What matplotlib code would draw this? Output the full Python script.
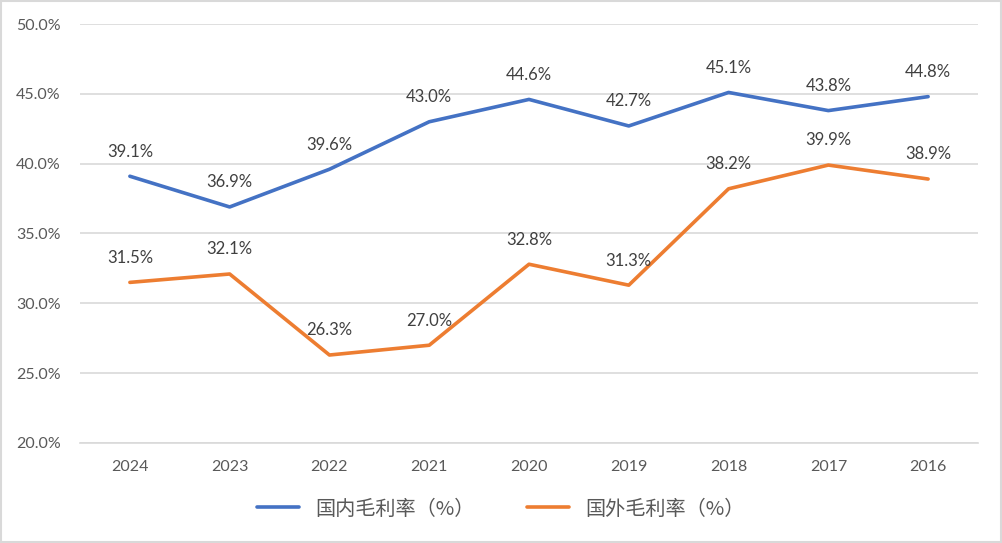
import matplotlib
matplotlib.use("Agg")
import matplotlib.pyplot as plt
from matplotlib.ticker import FuncFormatter

years = ["2024", "2023", "2022", "2021", "2020", "2019", "2018", "2017", "2016"]
domestic = [39.1, 36.9, 39.6, 43.0, 44.6, 42.7, 45.1, 43.8, 44.8]
foreign = [31.5, 32.1, 26.3, 27.0, 32.8, 31.3, 38.2, 39.9, 38.9]
series_names = ["国内毛利率（%）", "国外毛利率（%）"]

plt.rcParams['font.family'] = ['Lato', 'Noto Sans CJK SC', 'DejaVu Sans']
txt = '#595959'

fig = plt.figure(figsize=(10.02, 5.43), dpi=100)
fig.patch.set_facecolor('white')
fig.patches.append(plt.Rectangle((0.001, 0.001), 0.998, 0.997, transform=fig.transFigure,
                                 fill=False, edgecolor='#D9D9D9', linewidth=1.5))
ax = fig.add_axes([80/1002, 100/543, 898/1002, 419/543])
x = list(range(len(years)))
ax.plot(x, domestic, color='#4472C4', linewidth=2.6, solid_capstyle='round', label=series_names[0])
ax.plot(x, foreign, color='#ED7D31', linewidth=2.6, solid_capstyle='round', label=series_names[1])
for xs, ys in ((x, domestic), (x, foreign)):
    for xi, yi in zip(xs, ys):
        ax.annotate(f"{yi:.1f}%", (xi, yi), xytext=(0, 12), textcoords='offset points',
                    ha='center', va='bottom', fontsize=12, color='#404040')
ax.set_xlim(-0.5, len(years) - 0.5)
ax.set_ylim(20, 50)
ax.set_yticks([20, 25, 30, 35, 40, 45, 50])
ax.yaxis.set_major_formatter(FuncFormatter(lambda v, p: f"{v:.1f}%"))
ax.set_xticks(x)
ax.set_xticklabels(years)
ax.grid(axis='y', color='#D9D9D9', linewidth=1.2)
ax.set_axisbelow(True)
for s in ['top', 'right', 'left']:
    ax.spines[s].set_visible(False)
ax.spines['bottom'].set_color('#D9D9D9')
ax.spines['bottom'].set_linewidth(1.2)
ax.tick_params(axis='both', length=0, labelsize=11.5, colors=txt)
ax.tick_params(axis='y', pad=14)
ax.tick_params(axis='x', pad=12)
leg = fig.legend(loc='center', bbox_to_anchor=(0.5, 34/543), ncol=2, frameon=False,
                 fontsize=14.5, handlelength=2.1, columnspacing=2.6, handletextpad=0.8)
for t in leg.get_texts():
    t.set_color(txt)
    t.set_fontfamily(['Noto Sans CJK SC', 'DejaVu Sans'])
fig.savefig('out.png', dpi=100)
